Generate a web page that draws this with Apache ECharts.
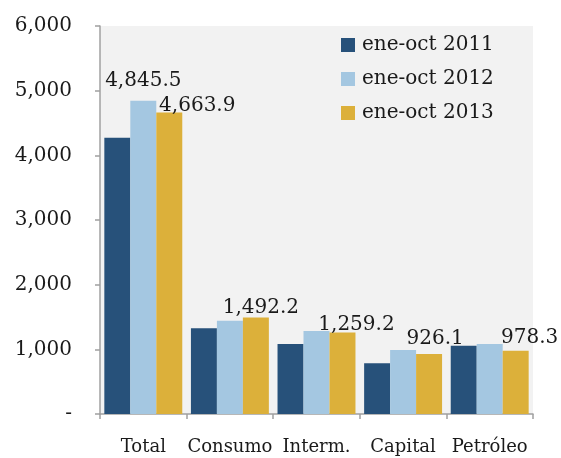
<!DOCTYPE html>
<html>
<head>
<meta charset="utf-8">
<script src="https://cdn.jsdelivr.net/npm/echarts@6/dist/echarts.min.js"></script>
<style>
  html, body { margin: 0; padding: 0; background: #fff; }
  #chart { width: 561px; height: 458px; }
</style>
</head>
<body>
<div id="chart"></div>
<script>
var categories = ['Total', 'Consumo', 'Interm.', 'Capital', 'Petróleo'];
var seriesNames = ['ene-oct 2011', 'ene-oct 2012', 'ene-oct 2013'];
var v2011 = [4273, 1325, 1082, 784, 1057];
var v2012 = [4845.5, 1443, 1283, 990, 1082];
var v2013 = [4663.9, 1492.2, 1259.2, 926.1, 978.3];
var yTicks = [0, 1000, 2000, 3000, 4000, 5000, 6000];

var colors = ['#27517a', '#a4c7e1', '#dcb03a'];
var font = 'DejaVu Serif';

function fmt(v, dec) {
	return v.toLocaleString('en-US', { minimumFractionDigits: dec, maximumFractionDigits: dec });
}

// label placement tweaks (Excel moved some of them by hand)
var offs2013 = [[28, 3], [5, 0], [14, 2], [6, -5], [14, -3]];

var chart = echarts.init(document.getElementById('chart'));

var labelBase = {
	show: true,
	position: 'top',
	distance: 0,
	fontFamily: font,
	fontSize: 20,
	color: '#1a1a1a',
	formatter: function (p) { return fmt(p.value, 1); }
};

var data2012 = v2012.map(function (v, i) {
	if (i === 0) return { value: v, label: Object.assign({}, labelBase, { offset: [0, -10] }) };
	return v;
});
var data2013 = v2013.map(function (v, i) {
	return { value: v, label: Object.assign({}, labelBase, { offset: offs2013[i] }) };
});

var option = {
	animation: false,
	textStyle: { fontFamily: font },
	grid: {
		left: 100, right: 28, top: 26, bottom: 44,
		show: true, backgroundColor: '#f2f2f2', borderWidth: 0
	},
	legend: {
		orient: 'vertical',
		left: 341, top: 35,
		padding: 0,
		itemWidth: 14, itemHeight: 14, itemGap: 14,
		icon: 'rect',
		textStyle: { fontFamily: font, fontSize: 20, color: '#1a1a1a', padding: [0, 0, 0, 2] },
		data: seriesNames
	},
	xAxis: {
		type: 'category',
		data: categories,
		axisLine: { lineStyle: { color: '#a0a0a0', width: 1.5 } },
		axisTick: { show: true, length: 5, lineStyle: { color: '#a0a0a0', width: 1.5 } },
		axisLabel: { fontFamily: font, fontSize: 18, color: '#1a1a1a', margin: 24, interval: 0 }
	},
	yAxis: {
		type: 'value',
		min: yTicks[0], max: yTicks[yTicks.length - 1], interval: 1000,
		axisLine: { show: true, lineStyle: { color: '#a0a0a0', width: 1.5 } },
		axisTick: { show: true, length: 5, lineStyle: { color: '#a0a0a0', width: 1.5 } },
		splitLine: { show: false },
		axisLabel: {
			fontFamily: font, fontSize: 20, color: '#1a1a1a', margin: 28,
			formatter: function (v) { return v === 0 ? '-' : fmt(v, 0); }
		}
	},
	series: [
		{ name: seriesNames[0], type: 'bar', data: v2011, itemStyle: { color: colors[0] }, barGap: '0%', barCategoryGap: '10%' },
		{ name: seriesNames[1], type: 'bar', data: data2012, itemStyle: { color: colors[1] } },
		{ name: seriesNames[2], type: 'bar', data: data2013, itemStyle: { color: colors[2] } }
	]
};

chart.setOption(option);
</script>
</body>
</html>
